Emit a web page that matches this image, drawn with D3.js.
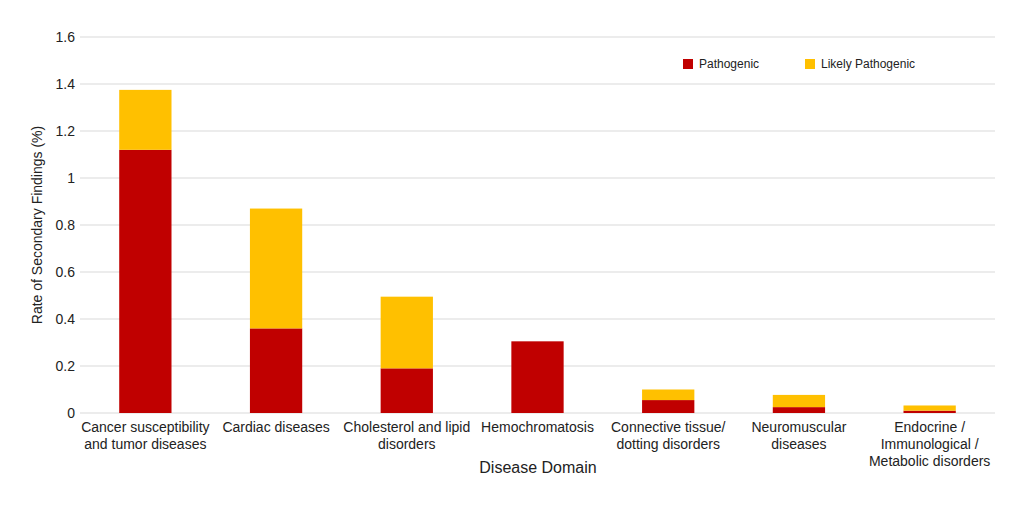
<!DOCTYPE html>
<html>
<head>
<meta charset="utf-8">
<script src="https://cdn.jsdelivr.net/npm/d3@7"></script>
<style>
body{margin:0;background:#fff;}
svg{display:block;font-family:"Liberation Sans",Arial,Helvetica,sans-serif;}
</style>
</head>
<body>
<svg id="chart" width="1024" height="512"></svg>
<script>
const categories = [
  ["Cancer susceptibility", "and tumor diseases"],
  ["Cardiac diseases"],
  ["Cholesterol and lipid", "disorders"],
  ["Hemochromatosis"],
  ["Connective tissue/", "dotting disorders"],
  ["Neuromuscular", "diseases"],
  ["Endocrine /", "Immunological /", "Metabolic disorders"]
];
const pathogenic = [1.12, 0.36, 0.19, 0.305, 0.055, 0.025, 0.01];
const likelyPathogenic = [0.255, 0.51, 0.305, 0, 0.045, 0.052, 0.022];
const yTicks = [0, 0.2, 0.4, 0.6, 0.8, 1, 1.2, 1.4, 1.6];
const seriesNames = ["Pathogenic", "Likely Pathogenic"];
const colors = ["#C00000", "#FFC000"];

const svg = d3.select("#chart");
const mLeft = 80, mRight = 995, mTop = 37, mBottom = 413;

const x = d3.scaleBand().domain(d3.range(categories.length)).range([mLeft, mRight]).paddingInner(0.6).paddingOuter(0.3);
const y = d3.scaleLinear().domain([0, 1.6]).range([mBottom, mTop]);

// gridlines
svg.append("g").selectAll("line").data(yTicks).join("line")
  .attr("x1", mLeft).attr("x2", mRight)
  .attr("y1", d => y(d)).attr("y2", d => y(d))
  .attr("stroke", "#d9d9d9").attr("stroke-width", 1);

// y tick labels
svg.append("g").selectAll("text").data(yTicks).join("text")
  .attr("x", 75).attr("y", d => y(d)).attr("dy", "0.35em")
  .attr("text-anchor", "end").attr("font-size", 14).attr("fill", "#222")
  .text(d => String(d));

// stacked data
const rows = categories.map((c, i) => ({i, p: pathogenic[i], lp: likelyPathogenic[i]}));
const stack = d3.stack().keys(["p", "lp"])(rows);

svg.append("g").selectAll("g").data(stack).join("g")
  .attr("fill", (d, k) => colors[k])
  .selectAll("rect").data(d => d.filter(s => s[1] - s[0] > 0)).join("rect")
  .attr("x", d => x(d.data.i))
  .attr("width", x.bandwidth())
  .attr("y", d => y(d[1]))
  .attr("height", d => y(d[0]) - y(d[1]));

// category labels
const lab = svg.append("g").selectAll("text").data(categories).join("text")
  .attr("text-anchor", "middle").attr("font-size", 14).attr("fill", "#222")
  .attr("transform", (d, i) => `translate(${x(i) + x.bandwidth()/2},0)`);
lab.selectAll("tspan").data(d => d).join("tspan")
  .attr("x", 0).attr("y", (d, j) => 432 + j * 17).text(d => d);

// axis titles
svg.append("text").attr("x", 538).attr("y", 473).attr("text-anchor", "middle")
  .attr("font-size", 16).attr("fill", "#222").text("Disease Domain");
svg.append("text").attr("transform", `translate(42,225) rotate(-90)`)
  .attr("text-anchor", "middle").attr("font-size", 14).attr("fill", "#222")
  .text("Rate of Secondary Findings (%)");

// legend
const legX = [683, 805];
const leg = svg.append("g").selectAll("g").data(seriesNames).join("g")
  .attr("transform", (d, k) => `translate(${legX[k]},59)`);
leg.append("rect").attr("width", 10).attr("height", 10).attr("fill", (d, k) => colors[k]);
leg.append("text").attr("x", 16).attr("y", 5).attr("dy", "0.35em")
  .attr("font-size", 12).attr("fill", "#222").text(d => d);
</script>
</body>
</html>
